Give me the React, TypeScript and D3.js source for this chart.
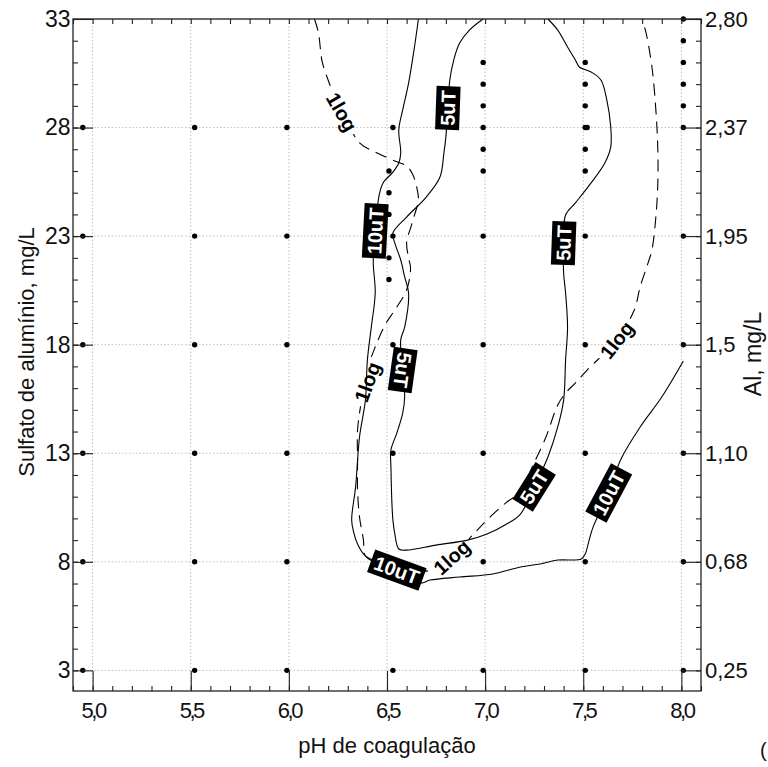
import React, { useEffect, useRef } from "react";
import * as d3 from "d3";

// eixos
const phTicks = [5.0, 5.5, 6.0, 6.5, 7.0, 7.5, 8.0];
const phTickLabels = ["5,0", "5,5", "6,0", "6,5", "7,0", "7,5", "8,0"];
const sulfTicks = [33, 28, 23, 18, 13, 8, 3];
const alTickLabels = ["2,80", "2,37", "1,95", "1,5", "1,10", "0,68", "0,25"];

// ensaios (pH, sulfato mg/L)
const dotPH = [4.95, 5.52, 5.99, 6.53, 6.51, 6.99, 7.51, 7.52, 8.01];
const dotSulf = [
  [28, 23, 18, 13, 8, 3],
  [28, 23, 18, 13, 8, 3],
  [28, 23, 18, 13, 8, 3],
  [28, 23, 18, 13, 8, 3],
  [26, 25, 24, 22, 21],
  [31, 30, 29, 28, 27, 26, 23, 18, 13, 8, 3],
  [31, 30, 29, 28, 27, 26, 23, 18, 13, 8, 3],
  [28],
  [33, 32, 31, 30, 29, 28, 23, 18, 13, 8, 3],
];

// curvas de nivel [pH, sulfato]
const log1Curve: [number, number][] = [
  [6.13, 33.0], [6.15, 32.4], [6.17, 31.02], [6.2, 30.19], [6.23, 29.5], [6.29, 28.44],
  [6.36, 27.29], [6.45, 26.83], [6.54, 26.46], [6.6, 26.23], [6.63, 25.86], [6.65, 25.31],
  [6.66, 24.66], [6.64, 23.97], [6.62, 23.37], [6.6, 22.73], [6.61, 21.99], [6.62, 21.53],
  [6.6, 20.52], [6.54, 19.6], [6.49, 18.91], [6.44, 17.89], [6.39, 16.6], [6.37, 15.45],
  [6.35, 14.07], [6.35, 12.69], [6.35, 11.31], [6.36, 10.06], [6.38, 9.0], [6.39, 8.27],
  [6.49, 7.81], [6.62, 7.62], [6.73, 7.62], [6.83, 8.22], [6.95, 9.37], [7.02, 10.02],
  [7.11, 10.75], [7.18, 11.22], [7.24, 12.37], [7.31, 13.75], [7.37, 15.22], [7.41, 15.77],
  [7.46, 16.24], [7.52, 16.83], [7.67, 18.22], [7.76, 19.6], [7.79, 20.66], [7.83, 21.76],
  [7.85, 22.36], [7.87, 23.88], [7.88, 25.45], [7.88, 26.97], [7.87, 28.81], [7.85, 30.79],
  [7.82, 32.36], [7.8, 33.0],
];
const uT10Curve: [number, number][] = [
  [6.66, 33.0], [6.64, 31.71], [6.61, 30.05], [6.58, 28.81], [6.56, 27.89], [6.57, 26.83],
  [6.56, 26.37], [6.53, 25.95], [6.48, 25.45], [6.46, 24.89], [6.44, 23.28], [6.43, 21.81],
  [6.44, 20.38], [6.42, 18.81], [6.4, 17.29], [6.39, 15.45], [6.36, 13.75], [6.34, 11.45],
  [6.32, 9.93], [6.33, 9.37], [6.35, 8.82], [6.39, 8.27], [6.55, 7.62], [6.67, 7.02],
  [6.72, 7.16], [6.87, 7.3], [7.04, 7.44], [7.18, 7.76], [7.28, 7.9], [7.37, 8.08],
  [7.49, 8.13], [7.51, 8.36], [7.53, 9.0], [7.55, 9.6], [7.63, 11.17], [7.69, 12.69],
  [7.79, 14.21], [7.9, 15.59], [8.01, 17.25],
];
const uT5Curve: [number, number][] = [
  [6.99, 33.0], [6.92, 32.49], [6.87, 31.89], [6.84, 31.11], [6.82, 30.19], [6.81, 28.9],
  [6.8, 27.57], [6.79, 26.83], [6.77, 25.72], [6.7, 24.8], [6.6, 23.88], [6.53, 23.14],
  [6.54, 22.68], [6.57, 21.9], [6.59, 21.12], [6.61, 20.38], [6.59, 18.81], [6.57, 18.22],
  [6.58, 16.83], [6.59, 15.59], [6.58, 14.85], [6.55, 13.93], [6.52, 13.15], [6.52, 12.37],
  [6.53, 9.93], [6.54, 9.28], [6.56, 8.59], [6.6, 8.54], [6.75, 8.77], [6.91, 9.0],
  [7.01, 9.28], [7.11, 9.74], [7.18, 10.2], [7.25, 11.45], [7.32, 12.83], [7.37, 14.21],
  [7.4, 15.45], [7.41, 17.29], [7.42, 18.81], [7.41, 20.38], [7.4, 21.3], [7.4, 22.68],
  [7.41, 23.97], [7.46, 24.53], [7.54, 25.45], [7.61, 26.37], [7.64, 27.1], [7.64, 28.03],
  [7.62, 29.27], [7.59, 30.19], [7.54, 30.56], [7.48, 30.79], [7.46, 31.11], [7.42, 31.71],
  [7.37, 32.49], [7.32, 33.0],
];

// rotulos das curvas
const boxLabelText = ["10uT", "10uT", "10uT", "5uT", "5uT", "5uT", "5uT"];
const boxLabelAt: [number, number][] = [
  [6.44, 23.24], [6.55, 7.62], [7.63, 11.17], [6.81, 28.9], [6.58, 16.83], [7.25, 11.45], [7.4, 22.68],
];
const boxAngles = [-87, 20, -62, -88, 98, -58, -88];
const logLabelAt: [number, number][] = [[6.27, 28.72], [6.4, 16.28], [6.83, 8.22], [7.67, 18.22]];
const logAngles = [60, -70, -42, -52];

const W = 768;
const H = 767;
const FONT = "'Liberation Sans', Arial, Helvetica, sans-serif";

export default function App() {
  const ref = useRef<SVGSVGElement>(null);

  useEffect(() => {
    const svg = d3.select(ref.current);
    svg.selectAll("*").remove();

    const left = 73, right = 701, top = 19, bottom = 691;
    const x = d3.scaleLinear().domain([4.9, 8.1]).range([left, right]);
    const y = d3.scaleLinear().domain([2.05, 33]).range([bottom, top]);

    // grade pontilhada
    const grid = svg.append("g")
      .attr("stroke", "#b0b0b0")
      .attr("stroke-width", 0.8)
      .attr("stroke-dasharray", "1.5,2");
    grid.append("g").selectAll("line").data(phTicks).join("line")
      .attr("x1", d => x(d)).attr("x2", d => x(d)).attr("y1", top).attr("y2", bottom);
    grid.append("g").selectAll("line").data(sulfTicks).join("line")
      .attr("y1", d => y(d)).attr("y2", d => y(d)).attr("x1", left).attr("x2", right);

    const line = d3.line<[number, number]>()
      .x(d => x(d[0]))
      .y(d => y(d[1]))
      .curve(d3.curveCatmullRom.alpha(0.5));

    // mascara para abrir o tracejado nos rotulos 1log
    const defs = svg.append("defs");
    const mask = defs.append("mask").attr("id", "m1log")
      .attr("maskUnits", "userSpaceOnUse")
      .attr("x", 0).attr("y", 0).attr("width", W).attr("height", H);
    mask.append("rect").attr("width", W).attr("height", H).attr("fill", "white");
    mask.selectAll("rect.cut").data(logLabelAt).join("rect")
      .attr("class", "cut")
      .attr("x", -25).attr("y", -12).attr("width", 50).attr("height", 24)
      .attr("fill", "black")
      .attr("transform", (d, i) => `translate(${x(d[0])},${y(d[1])}) rotate(${logAngles[i]})`);

    svg.append("path")
      .attr("d", line(log1Curve))
      .attr("fill", "none")
      .attr("stroke", "#000")
      .attr("stroke-width", 1.1)
      .attr("stroke-dasharray", "12,7")
      .attr("mask", "url(#m1log)");

    [uT10Curve, uT5Curve].forEach(c => {
      svg.append("path")
        .attr("d", line(c))
        .attr("fill", "none")
        .attr("stroke", "#000")
        .attr("stroke-width", 1.1);
    });

    // pontos
    const pts: [number, number][] = [];
    dotPH.forEach((p, i) => dotSulf[i].forEach(s => pts.push([p, s])));
    svg.append("g").selectAll("circle").data(pts).join("circle")
      .attr("cx", d => x(d[0])).attr("cy", d => y(d[1])).attr("r", 2.7).attr("fill", "#000");

    // rotulos 1log
    svg.append("g").selectAll("text").data(logLabelAt).join("text")
      .attr("transform", (d, i) => `translate(${x(d[0])},${y(d[1])}) rotate(${logAngles[i]})`)
      .attr("text-anchor", "middle")
      .attr("dy", "0.36em")
      .attr("font-family", FONT)
      .attr("font-weight", "bold")
      .attr("font-size", 20)
      .attr("fill", "#000")
      .text("1log");

    // rotulos em caixa preta
    const bl = svg.append("g").selectAll("g").data(boxLabelAt).join("g")
      .attr("transform", (d, i) => `translate(${x(d[0])},${y(d[1])}) rotate(${boxAngles[i]})`);
    bl.append("rect").attr("fill", "#000");
    bl.append("text")
      .attr("text-anchor", "middle")
      .attr("dy", "0.36em")
      .attr("font-family", FONT)
      .attr("font-weight", "bold")
      .attr("font-size", 20)
      .attr("fill", "#fff")
      .text((d, i) => boxLabelText[i]);
    bl.each(function () {
      const g = d3.select(this);
      const t = g.select<SVGTextElement>("text").node();
      const w = (t ? t.getComputedTextLength() : 40) + 8;
      g.select("rect").attr("x", -w / 2).attr("y", -12).attr("width", w).attr("height", 24);
    });

    // eixos
    const styleAxis = (g: d3.Selection<SVGGElement, unknown, null, undefined>) => {
      g.select(".domain").remove();
      g.selectAll(".tick line").attr("stroke", "#222").attr("stroke-width", 1.1);
      g.attr("font-family", FONT).attr("font-size", 22);
      g.selectAll(".tick text").attr("fill", "#111");
    };
    const phMinor = d3.range(49, 82).map(v => v / 10);
    const sMinor = d3.range(3, 34);

    svg.append("g").attr("transform", `translate(0,${bottom})`)
      .call(d3.axisBottom(x).tickValues(phMinor).tickSize(-5).tickFormat(() => ""))
      .call(styleAxis);
    svg.append("g").attr("transform", `translate(0,${top})`)
      .call(d3.axisTop(x).tickValues(phMinor).tickSize(-5).tickFormat(() => ""))
      .call(styleAxis);
    svg.append("g").attr("transform", `translate(${left},0)`)
      .call(d3.axisLeft(y).tickValues(sMinor).tickSize(-5).tickFormat(() => ""))
      .call(styleAxis);
    svg.append("g").attr("transform", `translate(${right},0)`)
      .call(d3.axisRight(y).tickValues(sMinor).tickSize(-5).tickFormat(() => ""))
      .call(styleAxis);

    svg.append("g").attr("transform", `translate(0,${bottom})`)
      .call(d3.axisBottom(x).tickValues(phTicks).tickSizeInner(-20).tickSizeOuter(0).tickPadding(11)
        .tickFormat((d, i) => phTickLabels[i]))
      .call(styleAxis)
      .call(g => g.selectAll(".tick text").attr("letter-spacing", "-2.5px"));
    svg.append("g").attr("transform", `translate(${left},0)`)
      .call(d3.axisLeft(y).tickValues(sulfTicks).tickSizeInner(-20).tickSizeOuter(0).tickPadding(2.5)
        .tickFormat(d3.format("d")))
      .call(styleAxis)
      .call(g => g.attr("font-size", 23));
    svg.append("g").attr("transform", `translate(${right},0)`)
      .call(d3.axisRight(y).tickValues(sulfTicks).tickSizeInner(-20).tickSizeOuter(0).tickPadding(4)
        .tickFormat((d, i) => alTickLabels[i]))
      .call(styleAxis);

    // moldura
    svg.append("rect")
      .attr("x", left).attr("y", top).attr("width", right - left).attr("height", bottom - top)
      .attr("fill", "none").attr("stroke", "#222").attr("stroke-width", 1.3);

    // titulos
    svg.append("text")
      .attr("x", 387).attr("y", 753)
      .attr("text-anchor", "middle")
      .attr("font-family", FONT).attr("font-size", 22).attr("fill", "#111")
      .text("pH de coagulação");
    svg.append("text")
      .attr("transform", `translate(34,352) rotate(-90)`)
      .attr("text-anchor", "middle")
      .attr("font-family", FONT).attr("font-size", 22).attr("fill", "#111")
      .text("Sulfato de alumínio, mg/L");
    svg.append("text")
      .attr("transform", `translate(761,354) rotate(-90)`)
      .attr("text-anchor", "middle")
      .attr("font-family", FONT).attr("font-size", 23).attr("fill", "#111")
      .text("Al, mg/L");
    svg.append("text")
      .attr("x", 760).attr("y", 757)
      .attr("font-family", FONT).attr("font-size", 20).attr("fill", "#111")
      .text("(");
  }, []);

  return (
    <svg
      ref={ref}
      width={W}
      height={H}
      style={{ position: "absolute", left: 0, top: 0, background: "#fff" }}
    />
  );
}
